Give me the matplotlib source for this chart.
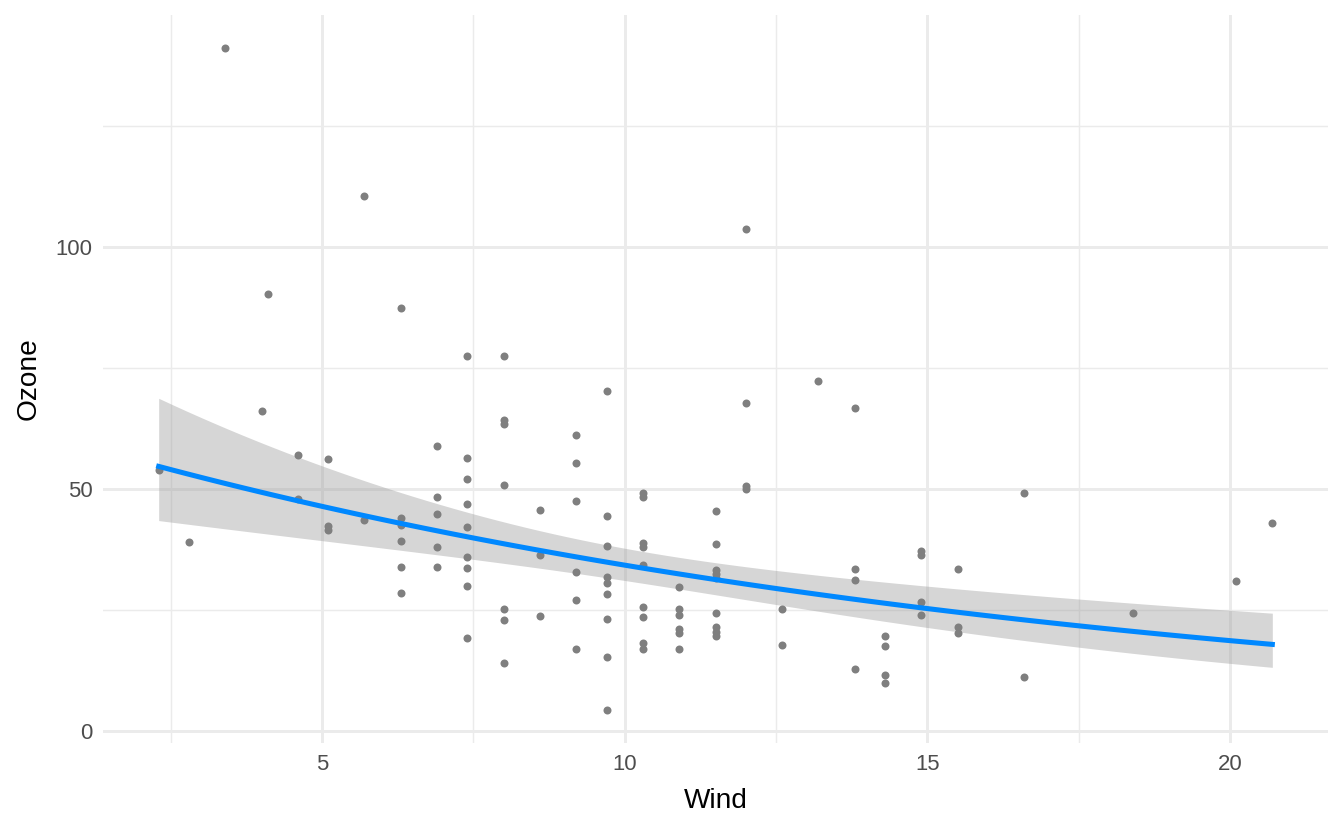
import numpy as np
import matplotlib.pyplot as plt

plt.rcParams['font.family'] = ['Liberation Sans', 'DejaVu Sans']

# scatter data (Wind vs Ozone)
wind = [2.3, 2.8, 3.4, 4.0, 4.1,
        4.6, 4.6,
        5.1, 5.1, 5.1,
        5.7, 5.7,
        6.3, 6.3, 6.3, 6.3, 6.3, 6.3,
        6.9, 6.9, 6.9, 6.9, 6.9,
        7.4, 7.4, 7.4, 7.4, 7.4, 7.4, 7.4, 7.4, 7.4,
        8.0, 8.0, 8.0, 8.0, 8.0, 8.0, 8.0,
        8.6, 8.6, 8.6,
        9.2, 9.2, 9.2, 9.2, 9.2, 9.2,
        9.7, 9.7, 9.7, 9.7, 9.7, 9.7, 9.7, 9.7, 9.7,
        10.3, 10.3, 10.3, 10.3, 10.3, 10.3, 10.3, 10.3, 10.3,
        10.9, 10.9, 10.9, 10.9, 10.9, 10.9,
        11.5, 11.5, 11.5, 11.5, 11.5, 11.5, 11.5, 11.5, 11.5,
        12.0, 12.0, 12.0, 12.0,
        12.6, 12.6,
        13.2,
        13.8, 13.8, 13.8, 13.8,
        14.3, 14.3, 14.3, 14.3,
        14.9, 14.9, 14.9, 14.9,
        15.5, 15.5, 15.5,
        16.6, 16.6,
        18.4, 20.1, 20.7]
ozone = [54.0, 39.0, 141.1, 66.2, 90.4,
         57.0, 48.0,
         56.2, 42.3, 41.5,
         110.6, 43.6,
         87.5, 44.1, 42.6, 39.2, 33.9, 28.6,
         59.0, 48.4, 44.9, 38.1, 33.9,
         77.4, 56.4, 52.0, 46.9, 42.1, 35.9, 33.7, 30.0, 19.2,
         77.4, 64.2, 63.5, 50.8, 25.3, 23.0, 14.0,
         45.6, 36.4, 23.7,
         61.2, 55.5, 47.6, 32.9, 27.0, 17.0,
         70.3, 44.5, 38.3, 31.9, 30.7, 28.3, 23.2, 15.3, 4.4,
         49.2, 48.3, 38.9, 38.1, 34.3, 25.6, 23.6, 18.2, 17.0,
         29.8, 25.3, 24.1, 21.2, 20.2, 17.0,
         45.5, 38.7, 33.3, 32.5, 31.7, 24.5, 21.5, 20.5, 19.7,
         103.7, 67.8, 50.6, 50.1,
         25.2, 17.8,
         72.4,
         66.7, 33.5, 31.2, 12.9,
         19.6, 17.7, 11.7, 10.0,
         37.2, 36.4, 26.6, 24.1,
         33.5, 21.5, 20.3,
         49.3, 11.1,
         24.5, 31.1, 43.1]

x = np.array(wind)
y = np.array(ozone)

# linear model on log(Ozone), back-transformed with 95% confidence band
X = np.column_stack([np.ones_like(x), x])
ly = np.log(y)
beta = np.linalg.lstsq(X, ly, rcond=None)[0]
resid = ly - X @ beta
sigma2 = np.sum(resid ** 2) / (len(y) - 2)
cov = sigma2 * np.linalg.inv(X.T @ X)

xs = np.linspace(x.min(), x.max(), 80)
Xs = np.column_stack([np.ones_like(xs), xs])
eta_s = Xs @ beta
se = np.sqrt(np.einsum('ij,jk,ik->i', Xs, cov, Xs))
tq = 1.983
fit = np.exp(eta_s)
lo = np.exp(eta_s - tq * se)
hi = np.exp(eta_s + tq * se)

fig, ax = plt.subplots(figsize=(7, 830 / 192), dpi=192)
fig.subplots_adjust(left=103 / 1344, right=1328 / 1344, bottom=1 - 743 / 830, top=1 - 15 / 830)

ax.fill_between(xs, lo, hi, color='#999999', alpha=0.4, linewidth=0, zorder=2)
ax.scatter(x, y, s=9, color='#7f7f7f', linewidths=0, zorder=3)
ax.plot(xs, fit, color='#0088ff', linewidth=1.9, zorder=4)

# axis limits with ggplot-style 5% expansion
ymin = min(y.min(), lo.min())
ymax = max(y.max(), hi.max())
xr = x.max() - x.min()
yr = ymax - ymin
ax.set_xlim(x.min() - 0.05 * xr, x.max() + 0.05 * xr)
ax.set_ylim(ymin - 0.05 * yr, ymax + 0.05 * yr)

ax.set_xticks([5, 10, 15, 20])
ax.set_yticks([0, 50, 100])
ax.set_xticks([2.5, 7.5, 12.5, 17.5], minor=True)
ax.set_yticks([25, 75, 125], minor=True)
ax.grid(True, which='major', color='#ebebeb', linewidth=1.1, zorder=0)
ax.grid(True, which='minor', color='#ebebeb', linewidth=0.55, zorder=0)
ax.set_axisbelow(True)
for s in ax.spines.values():
    s.set_visible(False)
ax.tick_params(which='both', length=0, labelsize=8.3, labelcolor='#4d4d4d', pad=4)

ax.set_xlabel('Wind', fontsize=10.5, labelpad=5)
ax.set_ylabel('Ozone', fontsize=10.5, labelpad=5)

plt.savefig('out.png', dpi=192, facecolor='white')
